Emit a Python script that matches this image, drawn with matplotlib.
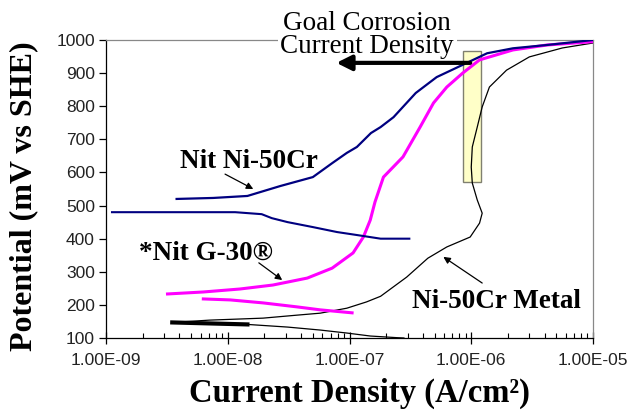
import matplotlib
matplotlib.use("Agg")
import matplotlib.pyplot as plt
from matplotlib.ticker import LogLocator, FixedLocator, NullFormatter
from matplotlib.patches import Rectangle

# ---- data (current density A/cm^2, potential mV vs SHE) ----
blue_up_i = [3.8e-9, 7.6e-9, 1.45e-8, 2.7e-8, 5.0e-8, 7.2e-8, 9.5e-8, 1.15e-7, 1.5e-7, 1.8e-7,
             2.3e-7, 3.5e-7, 5.2e-7, 8.5e-7, 1.35e-6, 2.2e-6, 4.2e-6, 1.0e-5]
blue_up_e = [520, 523, 529, 559, 586, 628, 659, 677, 719, 737, 767, 840, 888, 925, 960, 975, 985, 1000]

blue_dn_i = [1.12e-9, 1.15e-8, 1.9e-8, 2.3e-8, 3.1e-8, 5.0e-8, 7.9e-8, 1.15e-7, 1.8e-7, 3.1e-7]
blue_dn_e = [480, 480, 474, 462, 450, 435, 420, 411, 400, 400]

mag_up_i = [3.2e-9, 6.3e-9, 1.26e-8, 2.35e-8, 4.5e-8, 7.2e-8, 1.07e-7, 1.3e-7, 1.48e-7, 1.62e-7,
            1.9e-7, 2.75e-7, 3.8e-7, 4.9e-7, 6.3e-7, 8.5e-7, 1.17e-6, 2.2e-6, 4.2e-6, 1.0e-5]
mag_up_e = [233, 239, 248, 260, 281, 311, 357, 405, 456, 511, 586, 647, 737, 810, 858, 900, 940,
            970, 985, 995]

mag_dn_i = [6.3e-9, 1.05e-8, 1.95e-8, 3.7e-8, 5.75e-8, 1.05e-7]
mag_dn_e = [218, 215, 206, 194, 185, 176]

blk_up_i = [3.5e-9, 7.1e-9, 1.95e-8, 3.7e-8, 5.75e-8, 9.5e-8, 1.38e-7, 1.8e-7, 2.95e-7, 4.4e-7,
            6.3e-7, 9.8e-7, 1.17e-6, 1.23e-6, 1.12e-6, 1.02e-6, 1.0e-6, 1.02e-6, 1.12e-6, 1.23e-6,
            1.41e-6, 1.95e-6, 3.0e-6, 5.6e-6, 1.0e-5]
blk_up_e = [147, 154, 160, 169, 175, 190, 209, 226, 284, 341, 375, 405, 447, 477, 517, 568, 616,
            677, 737, 798, 858, 909, 949, 976, 991]

blk_dn_i = [3.5e-9, 1.45e-8, 3.1e-8, 5.75e-8, 9.5e-8, 1.48e-7, 2.45e-7, 2.8e-7]
blk_dn_e = [147, 141, 133, 124, 115, 106, 101, 100]

goal_i = [8.5e-7, 1.2e-6]      # goal current density band
goal_e = [571, 967]

x_ticks = [1e-9, 1e-8, 1e-7, 1e-6, 1e-5]
x_ticklabels = ["1.00E-09", "1.00E-08", "1.00E-07", "1.00E-06", "1.00E-05"]
y_ticks = [100, 200, 300, 400, 500, 600, 700, 800, 900, 1000]

serif = ["Liberation Serif", "DejaVu Serif"]
sans = ["Liberation Sans", "DejaVu Sans"]

fig = plt.figure(figsize=(6.41, 4.13), dpi=100)
ax = fig.add_axes([0.1654, 0.1816, 0.7597, 0.7215])
ax.set_xscale("log")
ax.set_xlim(1e-9, 1e-5)
ax.set_ylim(100, 1000)

# goal rectangle
ax.add_patch(Rectangle((goal_i[0], goal_e[0]), goal_i[1] - goal_i[0], goal_e[1] - goal_e[0],
                       facecolor="#FFFFC8", edgecolor="#808070", lw=1.0, zorder=1))

ax.plot(blk_dn_i, blk_dn_e, color="black", lw=0.9, zorder=3)
ax.plot(blk_dn_i[:2], blk_dn_e[:2], color="black", lw=3.0, zorder=3)
ax.plot(blk_up_i, blk_up_e, color="black", lw=0.9, zorder=3)
ax.plot(mag_dn_i, mag_dn_e, color="#FF00FF", lw=2.2, zorder=4)
ax.plot(mag_up_i, mag_up_e, color="#FF00FF", lw=2.2, zorder=4)
ax.plot(blue_dn_i, blue_dn_e, color="#000080", lw=1.5, zorder=5)
ax.plot(blue_up_i, blue_up_e, color="#000080", lw=1.6, zorder=5)

# goal text (white box hides the top spine), drawn below the arrow
ax.text(0.573, 0.915, "Goal Corrosion\nCurrent Density", transform=fig.transFigure,
        family=serif, fontsize=19.5, ha="center", va="center", linespacing=0.9,
        zorder=5.5, clip_on=False,
        bbox=dict(facecolor="white", edgecolor="none", pad=2))

# goal arrow
ax.annotate("", xy=(7.8e-8, 931), xytext=(9.8e-7, 931),
            arrowprops=dict(arrowstyle="-|>,head_length=0.9,head_width=0.45", color="black",
                            lw=3.0, shrinkA=0, shrinkB=0), zorder=6)

# curve labels with arrows
lab = dict(fontsize=19.5, fontweight="bold", family=serif, ha="center", va="center")
ax.text(1.5e-8, 632, "Nit Ni-50Cr", **lab)
ax.annotate("", xy=(1.62e-8, 550), xytext=(9.5e-9, 595),
            arrowprops=dict(arrowstyle="-|>", color="black", lw=0.9, shrinkA=0, shrinkB=0))
ax.text(6.6e-9, 357, "*Nit G-30®", **lab)
ax.annotate("", xy=(2.8e-8, 275), xytext=(1.8e-8, 327),
            arrowprops=dict(arrowstyle="-|>", color="black", lw=0.9, shrinkA=0, shrinkB=0))
ax.text(1.6e-6, 209, "Ni-50Cr Metal", **lab)
ax.annotate("", xy=(5.9e-7, 345), xytext=(1.23e-6, 266),
            arrowprops=dict(arrowstyle="-|>", color="black", lw=0.9, shrinkA=0, shrinkB=0))

# axes styling
for s in ["top", "right"]:
    ax.spines[s].set_color("#888888")
    ax.spines[s].set_linewidth(0.9)
for s in ["left", "bottom"]:
    ax.spines[s].set_color("black")
    ax.spines[s].set_linewidth(0.9)

ax.xaxis.set_major_locator(FixedLocator(x_ticks))
ax.set_xticklabels(x_ticklabels)
ax.xaxis.set_minor_locator(LogLocator(base=10, subs=range(2, 10)))
ax.xaxis.set_minor_formatter(NullFormatter())
ax.set_yticks(y_ticks)
ax.tick_params(axis="x", which="major", direction="inout", length=9, width=0.9,
               pad=6, labelsize=12.5, labelcolor="#222222")
ax.tick_params(axis="x", which="minor", direction="in", length=3.5, width=0.8)
ax.tick_params(axis="y", which="major", direction="out", length=5, width=0.9,
               pad=3, labelsize=12.5, labelcolor="#222222")
for t in ax.get_xticklabels() + ax.get_yticklabels():
    t.set_family(sans)

fig.text(0.037, 0.525, "Potential (mV vs SHE)", family=serif, fontsize=23, fontweight="bold",
         rotation=90, ha="center", va="center")
fig.text(0.56, 0.048, "Current Density (A/cm²)", family=serif, fontsize=23.5,
         fontweight="bold", ha="center", va="center")

fig.savefig("out.png", dpi=100)
